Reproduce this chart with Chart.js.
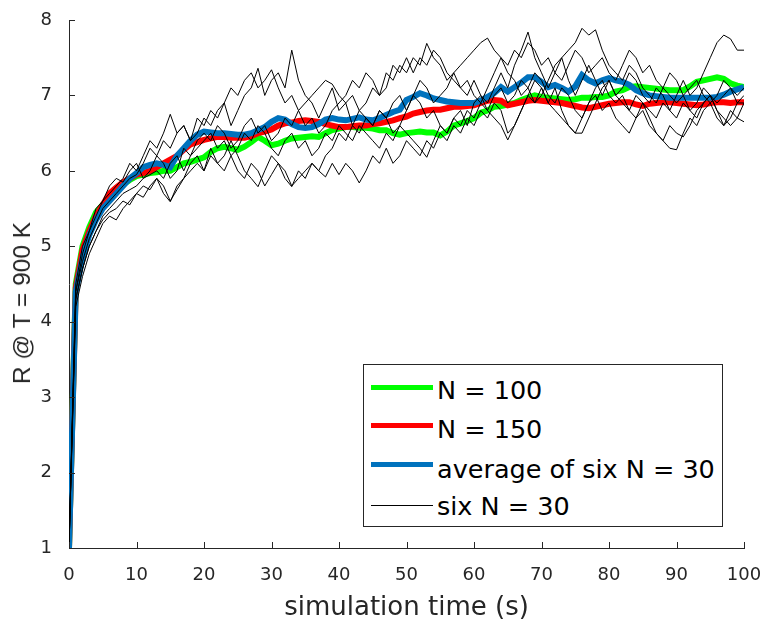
<!DOCTYPE html>
<html>
<head>
<meta charset="utf-8">
<script src="https://cdn.jsdelivr.net/npm/chart.js@4.4.1/dist/chart.umd.min.js"></script>
<style>
html,body{margin:0;padding:0;background:#fff;}
#wrap{position:relative;width:761px;height:624px;overflow:hidden;}
#c{position:absolute;left:0;top:0;}
#ytitle{position:absolute;left:22px;top:303px;transform:translate(-50%,-50%) rotate(-90deg);font-family:"Liberation Sans";font-size:24.5px;color:#262626;white-space:nowrap;line-height:28px;}
#legend{position:absolute;left:363px;top:364px;width:358px;height:161px;border:1px solid #262626;background:#fff;font-family:"DejaVu Sans";font-size:25.5px;color:#000;}
#legend .ln{position:absolute;left:7px;width:62px;}
#legend .tx{position:absolute;left:73px;line-height:30px;white-space:nowrap;}
</style>
</head>
<body>
<div id="wrap">
<canvas id="c" width="761" height="624"></canvas>
<div id="ytitle"></div>
<div id="legend">
  <div class="ln" style="top:20px;height:5px;background:#00ff00"></div><div class="tx" style="top:10px">N = 100</div>
  <div class="ln" style="top:58px;height:5px;background:#ff0000"></div><div class="tx" style="top:48.5px">N = 150</div>
  <div class="ln" style="top:97px;height:5px;background:#0072bd"></div><div class="tx" style="top:88.5px">average of six N = 30</div>
  <div class="ln" style="top:140px;height:1px;background:#000"></div><div class="tx" style="top:125.5px">six N = 30</div>
</div>
</div>
<script>
const timeS = [0,1,2,3,4,5,6,7,8,9,10,11,12,13,14,15,16,17,18,19,20,21,22,23,24,25,26,27,28,29,30,31,32,33,34,35,36,37,38,39,40,41,42,43,44,45,46,47,48,49,50,51,52,53,54,55,56,57,58,59,60,61,62,63,64,65,66,67,68,69,70,71,72,73,74,75,76,77,78,79,80,81,82,83,84,85,86,87,88,89,90,91,92,93,94,95,96,97,98,99,100];

const n100 = [1.0,4.5,5.0,5.25,5.45,5.55,5.65,5.75,5.82,5.88,5.93,
 5.95,5.97,5.98,6.0,6.0,6.05,6.1,6.12,6.15,6.18,
 6.25,6.3,6.32,6.3,6.28,6.32,6.38,6.45,6.4,6.34,
 6.36,6.4,6.43,6.44,6.45,6.46,6.45,6.5,6.54,6.56,
 6.58,6.58,6.57,6.57,6.56,6.54,6.54,6.5,6.48,6.5,
 6.51,6.52,6.51,6.51,6.47,6.52,6.6,6.63,6.66,6.7,
 6.77,6.8,6.85,6.86,6.88,6.9,6.94,6.97,7.0,6.98,
 6.97,6.96,6.95,6.94,6.95,6.97,6.97,6.98,6.98,7.0,
 7.05,7.07,7.11,7.12,7.11,7.1,7.09,7.08,7.07,7.07,
 7.07,7.12,7.18,7.2,7.22,7.24,7.22,7.16,7.13,7.11];

const n150 = [1.0,4.45,4.95,5.2,5.4,5.55,5.7,5.78,5.85,5.9,5.95,
 5.97,6.0,6.05,6.1,6.15,6.2,6.28,6.35,6.38,6.41,
 6.43,6.45,6.45,6.44,6.44,6.44,6.46,6.5,6.52,6.55,
 6.6,6.63,6.64,6.66,6.67,6.66,6.65,6.62,6.6,6.58,
 6.58,6.59,6.6,6.6,6.62,6.63,6.65,6.67,6.7,6.72,
 6.76,6.78,6.8,6.81,6.81,6.83,6.85,6.85,6.86,6.87,
 6.9,6.93,6.94,6.93,6.87,6.89,6.91,6.93,6.94,6.93,
 6.92,6.91,6.9,6.88,6.86,6.84,6.83,6.85,6.87,6.89,
 6.9,6.91,6.91,6.88,6.86,6.89,6.9,6.91,6.91,6.9,
 6.89,6.88,6.87,6.88,6.9,6.91,6.91,6.9,6.91,6.91];

const avgSix = [1.0,4.4,4.85,5.15,5.35,5.5,5.6,5.7,5.8,5.9,5.97,
 6.05,6.08,6.1,6.08,6.05,6.2,6.3,6.4,6.48,6.52,
 6.51,6.5,6.5,6.49,6.48,6.48,6.5,6.54,6.58,6.65,
 6.7,6.68,6.62,6.58,6.57,6.58,6.62,6.68,6.7,6.68,
 6.67,6.69,6.71,6.68,6.67,6.7,6.74,6.78,6.81,6.94,
 6.98,7.03,7.0,6.96,6.94,6.92,6.91,6.9,6.9,6.9,
 6.93,6.98,7.03,7.11,7.05,7.11,7.17,7.24,7.24,7.18,
 7.11,7.14,7.1,7.05,7.12,7.27,7.2,7.16,7.2,7.23,
 7.2,7.18,7.14,7.07,7.03,7.0,6.99,6.98,6.97,6.97,
 6.97,6.97,6.97,6.97,6.97,6.98,7.01,7.05,7.08,7.11];

const run1 = [1.0,4.4,4.9,5.2,5.4,5.6,5.7,5.8,5.9,6.1,6.0,
 6.2,6.4,6.3,6.5,6.75,6.5,6.6,6.4,6.7,6.6,
 6.8,6.7,6.9,6.6,6.8,7.0,7.1,7.36,7.0,7.2,
 7.3,7.1,7.6,7.2,7.0,6.9,6.7,6.9,7.1,6.8,
 6.9,6.6,6.8,6.9,7.1,7.0,7.3,7.2,7.4,7.3,
 7.5,7.4,7.69,7.5,7.4,7.2,7.3,7.1,7.0,7.2,
 7.0,6.9,7.1,7.3,7.1,7.4,7.6,7.84,7.5,7.3,
 7.1,7.3,7.5,7.2,7.0,7.2,7.4,7.2,7.0,7.2,
 7.0,7.1,7.3,7.2,7.0,6.9,7.1,7.0,6.8,7.0,
 7.2,7.0,7.1,7.3,7.5,7.7,7.8,7.75,7.6,7.6];

const run2 = [1.0,4.3,4.7,5.0,5.2,5.35,5.45,5.5,5.6,5.55,5.7,
 5.8,5.75,5.9,5.8,5.6,5.75,5.9,6.0,6.1,6.0,
 6.2,6.1,6.0,6.2,6.0,5.9,6.1,6.0,5.8,5.95,
 6.1,6.0,5.8,5.9,6.0,6.1,6.0,5.92,6.1,5.95,
 6.1,6.0,5.84,6.0,6.2,6.1,6.3,6.1,6.2,6.4,
 6.3,6.2,6.4,6.3,6.5,6.4,6.6,6.5,6.7,6.6,
 6.8,6.7,6.9,6.8,6.5,6.6,6.8,7.0,6.9,7.1,
 6.9,7.1,6.8,6.6,6.5,6.7,6.9,7.0,6.8,6.9,
 6.7,6.6,6.5,6.7,6.8,6.6,6.5,6.4,6.3,6.28,
 6.5,6.7,6.6,6.8,6.9,6.7,6.6,6.8,6.7,6.65];

const run3 = [1.0,4.5,5.0,5.2,5.5,5.6,5.8,5.9,5.85,6.0,6.1,
 5.9,6.0,6.2,6.1,5.9,6.0,6.3,6.2,6.4,6.5,
 6.4,6.6,6.5,6.3,6.4,6.6,6.7,6.5,6.6,6.4,
 6.5,6.7,6.6,6.8,6.9,7.0,7.1,7.2,7.15,7.0,
 6.9,7.0,6.8,6.7,6.6,6.8,6.7,6.9,7.0,6.8,
 7.0,7.2,7.1,6.9,7.0,7.1,7.3,7.4,7.5,7.6,
 7.7,7.76,7.6,7.5,7.3,7.2,7.0,7.1,6.9,7.0,
 7.2,7.4,7.5,7.6,7.7,7.89,7.8,7.87,7.6,7.4,
 7.3,7.2,7.4,7.3,7.1,7.0,6.9,7.1,7.0,6.9,
 7.0,6.8,6.9,7.1,7.0,6.9,7.0,7.1,7.0,7.1];

const run4 = [1.0,4.2,4.6,4.9,5.1,5.3,5.4,5.35,5.5,5.6,5.7,
 5.65,5.8,5.9,5.7,5.59,5.8,5.9,6.1,6.2,6.0,
 6.3,6.1,6.2,6.4,6.2,6.0,5.9,5.79,6.0,6.2,
 6.1,5.9,5.79,6.0,5.9,6.1,6.0,6.2,6.3,6.5,
 6.4,6.6,6.5,6.7,6.6,6.8,6.7,6.5,6.6,6.5,
 6.4,6.3,6.18,6.4,6.6,6.5,6.7,6.8,6.6,6.9,
 7.0,6.8,6.7,6.6,6.41,6.6,6.8,7.0,7.2,7.1,
 6.9,6.8,6.7,6.6,6.5,6.5,6.7,6.9,7.1,7.2,
 7.0,6.9,6.8,7.0,6.9,6.7,6.5,6.4,6.6,6.5,
 6.45,6.6,6.8,6.9,7.0,6.8,6.7,6.6,6.7,6.9];

const run5 = [1.0,4.4,4.8,5.1,5.3,5.5,5.6,5.7,5.8,5.9,5.95,
 6.1,6.3,6.2,6.4,6.3,6.5,6.6,6.4,6.5,6.7,
 6.6,6.8,6.9,7.1,7.0,7.2,7.3,7.1,7.2,7.34,
 7.1,6.9,7.0,6.8,6.6,6.7,6.5,6.6,6.8,6.9,
 7.0,7.2,7.1,7.3,7.2,7.0,7.1,7.4,7.3,7.5,
 7.3,7.5,7.4,7.6,7.5,7.3,7.2,7.1,7.2,7.0,
 6.9,7.1,7.3,7.5,7.4,7.6,7.5,7.7,7.6,7.4,
 7.5,7.3,7.2,7.4,7.6,7.5,7.3,7.4,7.5,7.3,
 7.2,7.4,7.6,7.5,7.3,7.4,7.2,7.1,7.3,7.2,
 7.0,7.1,7.2,7.0,6.9,7.0,7.2,7.1,6.9,7.0];

const run6 = [1.0,4.3,4.7,5.0,5.2,5.4,5.5,5.6,5.7,5.75,5.8,
 5.9,5.95,6.0,5.9,6.1,6.2,6.0,6.2,6.3,6.4,
 6.5,6.3,6.4,6.2,6.3,6.5,6.4,6.6,6.5,6.3,
 6.2,6.4,6.5,6.3,6.4,6.2,6.3,6.5,6.4,6.6,
 6.5,6.4,6.6,6.5,6.4,6.3,6.5,6.4,6.6,6.8,
 7.0,6.9,6.7,6.8,6.6,6.5,6.7,6.6,6.8,6.7,
 6.9,6.8,7.0,7.1,6.9,7.0,7.2,7.1,7.3,7.2,
 7.0,6.9,7.1,7.0,6.8,6.7,6.9,7.1,7.2,7.0,
 6.9,7.0,6.8,6.7,6.9,6.8,6.7,6.9,6.8,6.7,
 6.9,6.8,6.7,6.9,7.0,6.8,6.6,6.7,6.9,6.9];

const xTickStep = 10;
const yTickStep = 1;
const xTitle = 'simulation time (s)';
const yTitle = 'R @ T = 900 K';

document.getElementById('ytitle').textContent = yTitle;

function pts(arr){ return arr.map((v,i)=>({x:timeS[i], y:v})); }
function blackRun(arr){ return {label:'six N = 30', data:pts(arr), borderColor:'#000000', borderWidth:1, pointRadius:0, tension:0, order:1}; }

const inwardTicks = {
  id:'inwardTicks',
  afterDatasetsDraw(chart){
    const {ctx, chartArea, scales} = chart;
    const x = scales.x, y = scales.y;
    ctx.save();
    ctx.strokeStyle = '#262626';
    ctx.lineWidth = 1;
    ctx.beginPath();
    x.ticks.forEach(t=>{ const px = Math.round(x.getPixelForValue(t.value)) + 0.5; ctx.moveTo(px, chartArea.bottom); ctx.lineTo(px, chartArea.bottom - 6); });
    y.ticks.forEach(t=>{ const py = Math.round(y.getPixelForValue(t.value)) + 0.5; ctx.moveTo(chartArea.left, py); ctx.lineTo(chartArea.left + 6, py); });
    ctx.stroke();
    ctx.restore();
  }
};

new Chart(document.getElementById('c'), {
  type:'line',
  data:{ datasets:[
    {label:'N = 100', data:pts(n100), borderColor:'#00ff00', borderWidth:6, pointRadius:0, tension:0, order:4},
    {label:'N = 150', data:pts(n150), borderColor:'#ff0000', borderWidth:6, pointRadius:0, tension:0, order:3},
    {label:'average of six N = 30', data:pts(avgSix), borderColor:'#0072bd', borderWidth:6, pointRadius:0, tension:0, order:2},
    blackRun(run1), blackRun(run2), blackRun(run3), blackRun(run4), blackRun(run5), blackRun(run6)
  ]},
  options:{
    responsive:false,
    animation:false,
    devicePixelRatio:1,
    layout:{padding:{top:20,right:17,left:0,bottom:0}},
    plugins:{legend:{display:false}, tooltip:{enabled:false}},
    scales:{
      x:{type:'linear', min:0, max:100,
         ticks:{stepSize:xTickStep, color:'#262626', font:{family:'DejaVu Sans', size:18}, padding:9, maxRotation:0, autoSkip:false},
         grid:{display:false},
         border:{display:true, color:'#262626', width:1},
         title:{display:true, text:xTitle, color:'#262626', font:{family:'DejaVu Sans', size:26}, padding:0},
         afterFit(s){ s.height = 76; s.paddingLeft = 0; s.paddingRight = 0; }
      },
      y:{type:'linear', min:1, max:8,
         ticks:{stepSize:yTickStep, color:'#262626', font:{family:'DejaVu Sans', size:18}, padding:9},
         grid:{display:false},
         border:{display:true, color:'#262626', width:1},
         title:{display:false},
         afterFit(s){ s.width = 69; s.paddingTop = 0; s.paddingBottom = 0; }
      }
    }
  },
  plugins:[inwardTicks]
});
</script>
</body>
</html>
